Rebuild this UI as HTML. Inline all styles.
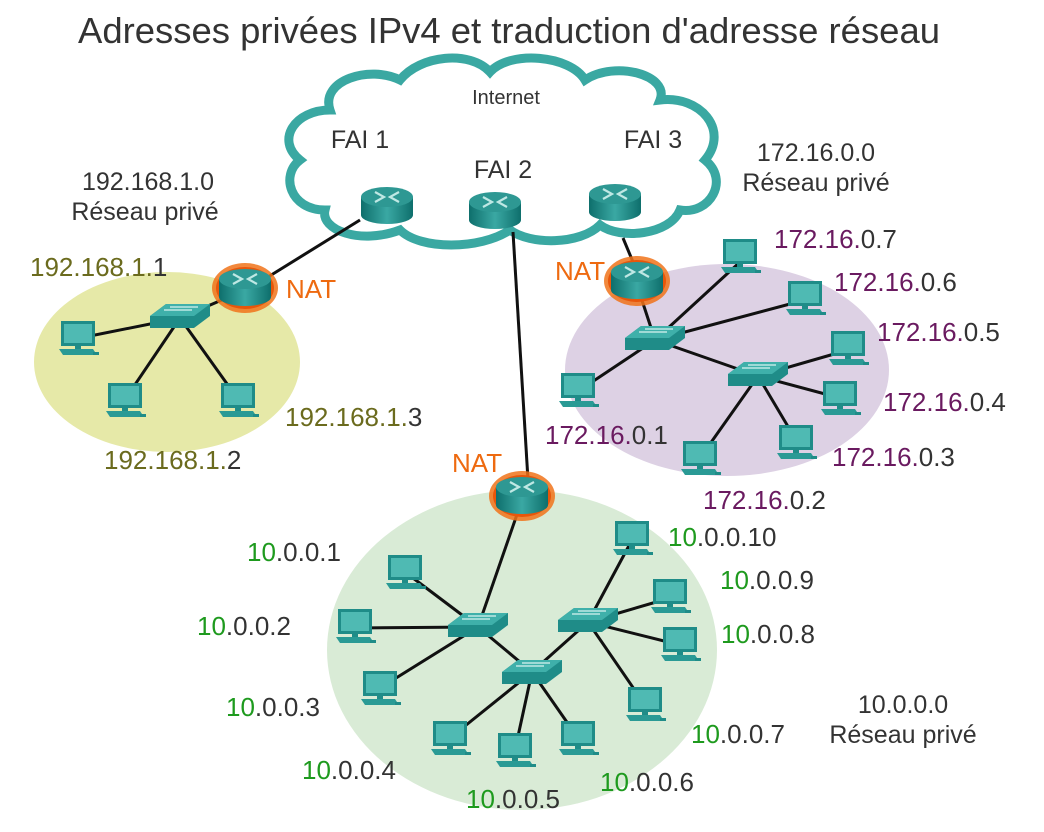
<!DOCTYPE html>
<html><head><meta charset="utf-8"><style>
body{margin:0;background:#fff;}
svg text{font-family:"Liberation Sans",sans-serif;}
</style></head><body>
<svg width="1044" height="827" viewBox="0 0 1044 827" xmlns="http://www.w3.org/2000/svg">
<defs>
<linearGradient id="rg" x1="0" x2="1"><stop offset="0" stop-color="#0e6f6c"/><stop offset=".5" stop-color="#3aa8a3"/><stop offset="1" stop-color="#0e6f6c"/></linearGradient>
<g id="router">
<rect x="-26" y="-8" width="52" height="18" fill="url(#rg)"/>
<ellipse cx="0" cy="10" rx="26" ry="9" fill="url(#rg)"/>
<ellipse cx="0" cy="-8" rx="26" ry="10" fill="#2e9893"/>
<path d="M-12 -13 L-3 -8 L-12 -3 M12 -13 L3 -8 L12 -3" stroke="#bfe8e4" stroke-width="2.2" fill="none"/>
</g>
<g id="nat">
<ellipse cx="0" cy="1" rx="33" ry="25" fill="#f0731a" opacity=".85"/>
<ellipse cx="0" cy="1" rx="29" ry="21" fill="#e8560a"/>
<use href="#router"/>
</g>
<g id="sw">
<path d="M-30 -2 L-14 -14 L30 -14 L30 -2 L14 10 L-30 10 Z" fill="#1f8c88"/>
<path d="M-30 -2 L-14 -14 L30 -14 L14 -2 Z" fill="#3fb0aa"/>
<path d="M-16 -8 H12 M-10 -11 H18" stroke="#bfe8e4" stroke-width="1.5"/>
</g>
<g id="pc">
<rect x="-17" y="-19" width="34" height="25" fill="#1f8c88"/>
<rect x="-14" y="-16" width="28" height="19" fill="#4fbab3"/>
<rect x="-3" y="6" width="6" height="3" fill="#1f8c88"/>
<path d="M-19 9 L15 9 L19 15 L-15 15 Z" fill="#2a9a95"/>
<rect x="15" y="12" width="6" height="3" fill="#1f8c88"/>
</g>
</defs>

<text x="509" y="43" font-size="36" fill="#333" text-anchor="middle" textLength="862" lengthAdjust="spacingAndGlyphs">Adresses privées IPv4 et traduction d'adresse réseau</text>

<ellipse cx="167" cy="362" rx="133" ry="90" fill="#e6e9a8"/>
<ellipse cx="727" cy="370" rx="162" ry="106" fill="#ddd1e4"/>
<ellipse cx="522" cy="650" rx="195" ry="160" fill="#d9ebd6"/>

<path d="M330 110 C320 80 370 65 400 80 C420 55 470 50 490 72 C510 50 570 55 585 80 C615 60 670 75 660 100 C700 95 730 130 705 160 C730 180 710 215 680 210 C670 235 620 240 600 225 C580 245 530 245 510 230 C480 250 420 250 400 230 C360 245 320 230 325 210 C290 210 280 175 300 160 C275 140 295 110 330 110 Z" fill="#fff" stroke="#3aa8a2" stroke-width="9"/>
<text x="506" y="104" font-size="20" fill="#333" text-anchor="middle">Internet</text>
<text x="360" y="148" font-size="25" fill="#333" text-anchor="middle">FAI 1</text>
<text x="503" y="178" font-size="25" fill="#333" text-anchor="middle">FAI 2</text>
<text x="653" y="148" font-size="25" fill="#333" text-anchor="middle">FAI 3</text>

<g stroke="#111" stroke-width="3">
<line x1="360" y1="220" x2="268" y2="277"/>
<line x1="513" y1="232" x2="528" y2="480"/>
<line x1="623" y1="238" x2="633" y2="262"/>
<line x1="245" y1="290" x2="180" y2="318"/>
<line x1="180" y1="318" x2="80" y2="338"/>
<line x1="180" y1="318" x2="128" y2="395"/>
<line x1="180" y1="318" x2="235" y2="395"/>
<line x1="637" y1="285" x2="655" y2="340"/>
<line x1="655" y1="340" x2="740" y2="262"/>
<line x1="655" y1="340" x2="805" y2="300"/>
<line x1="655" y1="340" x2="758" y2="376"/>
<line x1="655" y1="340" x2="580" y2="390"/>
<line x1="758" y1="376" x2="848" y2="350"/>
<line x1="758" y1="376" x2="840" y2="398"/>
<line x1="758" y1="376" x2="796" y2="440"/>
<line x1="758" y1="376" x2="700" y2="458"/>
<line x1="522" y1="500" x2="478" y2="627"/>
<line x1="478" y1="627" x2="405" y2="572"/>
<line x1="478" y1="627" x2="355" y2="628"/>
<line x1="478" y1="627" x2="380" y2="688"/>
<line x1="478" y1="627" x2="532" y2="672"/>
<line x1="588" y1="622" x2="532" y2="672"/>
<line x1="588" y1="622" x2="632" y2="540"/>
<line x1="588" y1="622" x2="670" y2="598"/>
<line x1="588" y1="622" x2="680" y2="645"/>
<line x1="588" y1="622" x2="645" y2="705"/>
<line x1="532" y1="672" x2="450" y2="738"/>
<line x1="532" y1="672" x2="515" y2="750"/>
<line x1="532" y1="672" x2="578" y2="738"/>
</g>

<use href="#router" x="387" y="205"/>
<use href="#router" x="495" y="210"/>
<use href="#router" x="615" y="202"/>
<use href="#nat" x="245" y="287"/>
<use href="#nat" x="637" y="280"/>
<use href="#nat" x="522" y="495"/>

<use href="#sw" x="180" y="318"/>
<use href="#pc" x="78" y="340"/><use href="#pc" x="125" y="402"/><use href="#pc" x="238" y="402"/>

<use href="#sw" x="655" y="340"/><use href="#sw" x="758" y="376"/>
<use href="#pc" x="740" y="258"/><use href="#pc" x="805" y="300"/><use href="#pc" x="848" y="350"/><use href="#pc" x="840" y="400"/><use href="#pc" x="796" y="444"/><use href="#pc" x="700" y="460"/><use href="#pc" x="578" y="392"/>

<use href="#sw" x="478" y="627"/><use href="#sw" x="588" y="622"/><use href="#sw" x="532" y="674"/>
<use href="#pc" x="405" y="574"/><use href="#pc" x="355" y="628"/><use href="#pc" x="380" y="690"/><use href="#pc" x="450" y="740"/><use href="#pc" x="515" y="752"/><use href="#pc" x="578" y="740"/><use href="#pc" x="632" y="540"/><use href="#pc" x="670" y="598"/><use href="#pc" x="680" y="646"/><use href="#pc" x="645" y="706"/>

<g font-size="25" fill="#333">
<text x="148" y="190" text-anchor="middle">192.168.1.0</text>
<text x="145" y="220" text-anchor="middle">Réseau privé</text>
<text x="816" y="161" text-anchor="middle">172.16.0.0</text>
<text x="816" y="191" text-anchor="middle">Réseau privé</text>
<text x="903" y="713" text-anchor="middle">10.0.0.0</text>
<text x="903" y="743" text-anchor="middle">Réseau privé</text>
</g>
<g font-size="26" fill="#ee6a10">
<text x="286" y="298">NAT</text>
<text x="555" y="280">NAT</text>
<text x="452" y="472">NAT</text>
</g>
<g font-size="26" fill="#333">
<text x="30" y="276"><tspan fill="#6b6b1e">192.168.1.</tspan>1</text>
<text x="285" y="426"><tspan fill="#6b6b1e">192.168.1.</tspan>3</text>
<text x="104" y="469"><tspan fill="#6b6b1e">192.168.1.</tspan>2</text>
<text x="774" y="248"><tspan fill="#6a1a60">172.16.</tspan>0.7</text>
<text x="834" y="291"><tspan fill="#6a1a60">172.16.</tspan>0.6</text>
<text x="877" y="341"><tspan fill="#6a1a60">172.16.</tspan>0.5</text>
<text x="883" y="411"><tspan fill="#6a1a60">172.16.</tspan>0.4</text>
<text x="832" y="466"><tspan fill="#6a1a60">172.16.</tspan>0.3</text>
<text x="703" y="509"><tspan fill="#6a1a60">172.16.</tspan>0.2</text>
<text x="545" y="444"><tspan fill="#6a1a60">172.16.</tspan>0.1</text>
<text x="247" y="561"><tspan fill="#1e9a1e">10</tspan>.0.0.1</text>
<text x="197" y="635"><tspan fill="#1e9a1e">10</tspan>.0.0.2</text>
<text x="226" y="716"><tspan fill="#1e9a1e">10</tspan>.0.0.3</text>
<text x="302" y="779"><tspan fill="#1e9a1e">10</tspan>.0.0.4</text>
<text x="466" y="808"><tspan fill="#1e9a1e">10</tspan>.0.0.5</text>
<text x="600" y="791"><tspan fill="#1e9a1e">10</tspan>.0.0.6</text>
<text x="691" y="743"><tspan fill="#1e9a1e">10</tspan>.0.0.7</text>
<text x="721" y="643"><tspan fill="#1e9a1e">10</tspan>.0.0.8</text>
<text x="720" y="589"><tspan fill="#1e9a1e">10</tspan>.0.0.9</text>
<text x="668" y="546"><tspan fill="#1e9a1e">10</tspan>.0.0.10</text>
</g>
</svg>
</body></html>
